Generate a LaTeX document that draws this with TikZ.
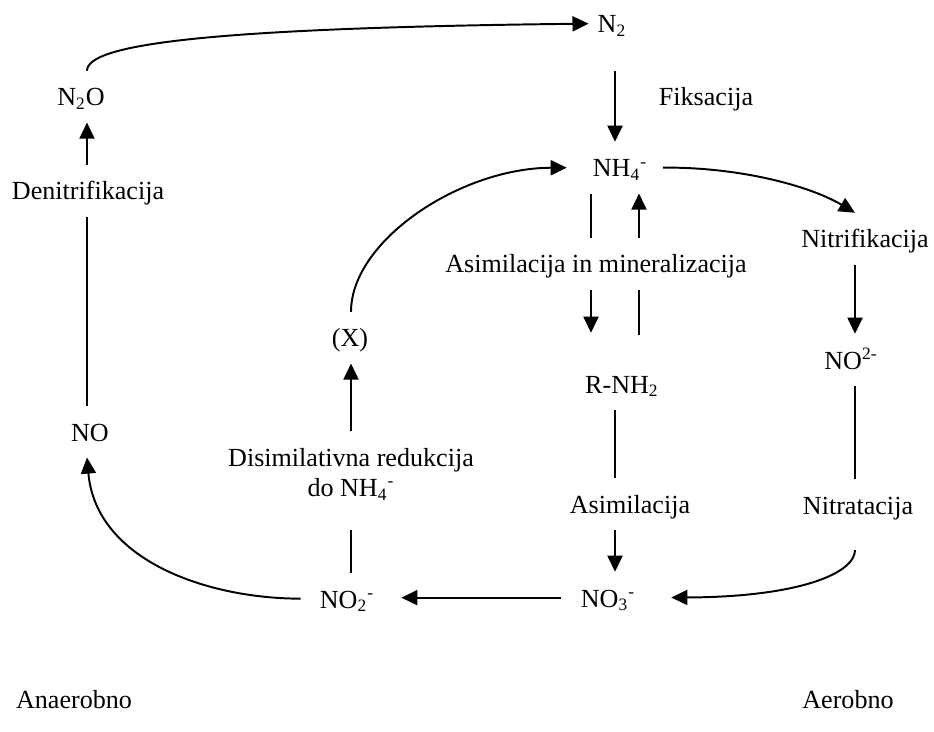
\documentclass[tikz,border=0pt]{standalone}
\usepackage{fontspec}
\setmainfont{Liberation Serif}
\usepackage{tikz}
\usetikzlibrary{arrows.meta,calc,positioning}

\begin{document}
\begin{tikzpicture}[x=0.46pt, y=0.46pt,
    lbl/.style={font=\fontsize{12}{14.4}\selectfont, text height=14pt, text depth=5.4pt,
                inner xsep=4pt, inner ysep=2pt, anchor=base},
    ln/.style={line width=0.9pt},
    arr/.style={line width=0.9pt, -{Triangle[length=7.4pt,width=6.9pt]}}]
    \useasboundingbox (0,0) rectangle (934,731);

    % columns for the vertical connectors
    \coordinate (colA) at (87,0);
    \coordinate (colB) at (615,0);
    \coordinate (colC) at (855,0);
    \coordinate (colD) at (351,0);
    \coordinate (colL) at (591,0);
    \coordinate (colR) at (639,0);

    % compounds
    \node[lbl] (n2) at (612,698) {N\textsubscript{2}};
    \node[lbl] (n2o) at (81,625) {N\textsubscript{2}O};
    \node[lbl] (no) at (90,290) {NO};
    \node[lbl] (nh4) at (620,554) {NH\textsubscript{4}\textsuperscript{-}};
    \node[lbl] (rnh2) at (622,338) {R-NH\textsubscript{2}};
    \node[lbl] (no3) at (608,124) {NO\textsubscript{3}\textsuperscript{-}};
    \node[lbl] (no2) at (347,123) {NO\textsubscript{2}\textsuperscript{-}};
    \node[lbl] (xnode) at (350,384) {(X)};
    \node[lbl] (no2s) at (851,362) {NO\textsuperscript{2-}};

    % processes
    \node[lbl] (denit) at (88,531) {Denitrifikacija};
    \node[lbl] (fiks) at (706,625) {Fiksacija};
    \node[lbl] (asimin) at (596,458) {Asimilacija in mineralizacija};
    \node[lbl] (asim) at (630,218) {Asimilacija};
    \node[font=\fontsize{12}{13.8}\selectfont, align=center, inner xsep=4pt, inner ysep=7.4pt]
         (disim) at (351,257) {Disimilativna redukcija\\do NH\textsubscript{4}\textsuperscript{-}};
    \node[lbl] (nitrif) at (865,483) {Nitrifikacija};
    \node[lbl] (nitrat) at (858,217) {Nitratacija};

    % conditions
    \node[lbl] (anaer) at (74,23) {Anaerobno};
    \node[lbl] (aer) at (848,23) {Aerobno};

    % denitrifikacija
    \draw[ln] (no.north -| colA) -- (denit.south -| colA);
    \draw[arr] (denit.north -| colA) -- (n2o.south -| colA);
    \draw[arr] (n2o.north -| colA) .. controls (87,686) and (200,703) .. (n2.west);
    \draw[arr, shorten <=4.6pt] (no2.west) to[out=180, in=-85] (no.south -| colA);

    % fiksacija
    \draw[arr, shorten <=9.7pt] (n2.south -| colB) -- (nh4.north -| colB);

    % asimilacija in mineralizacija
    \draw[ln] (nh4.south -| colL) -- (asimin.north -| colL);
    \draw[arr, shorten >=11.5pt] (asimin.south -| colL) -- (rnh2.north -| colL);
    \draw[ln, shorten <=10.6pt] (rnh2.north -| colR) -- (asimin.south -| colR);
    \draw[arr] (asimin.north -| colR) -- (nh4.south -| colR);

    % asimilacija
    \draw[ln] (rnh2.south -| colB) -- (asim.north -| colB);
    \draw[arr] (asim.south -| colB) -- (no3.north -| colB);
    \draw[arr, shorten <=5pt, shorten >=8.3pt] (no3.west) -- (no2.east |- no3.west);

    % disimilativna redukcija
    \draw[ln, shorten >=6pt] (no2.north -| colD) -- (disim.south -| colD);
    \draw[arr] (disim.north -| colD) -- (xnode.south -| colD);
    \draw[arr, shorten >=7.8pt] (xnode.north -| colD) .. controls (351,490) and (460,563) .. (nh4.west);

    % nitrifikacija
    \draw[arr, shorten <=3pt] (nh4.east) .. controls (740,564) and (810,545) .. (nitrif.north -| colC);
    \draw[arr] (nitrif.south -| colC) -- (no2s.north -| colC);
    \draw[ln] (no2s.south -| colC) -- (nitrat.north -| colC);
    \draw[arr, shorten <=9pt, shorten >=12.4pt] (nitrat.south -| colC) .. controls (855,158) and (800,134) .. (no3.east);
\end{tikzpicture}
\end{document}
